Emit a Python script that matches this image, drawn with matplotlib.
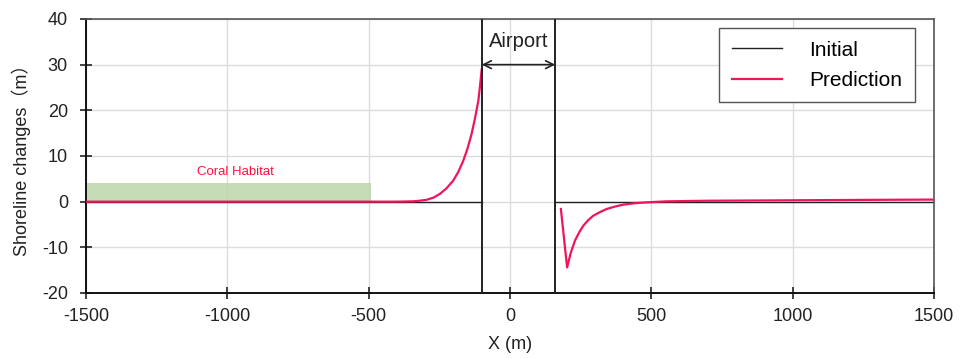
import numpy as np
import matplotlib
import matplotlib.pyplot as plt
matplotlib.use('agg')

plt.rcParams['font.family'] = ['Liberation Sans', 'Noto Sans CJK SC', 'DejaVu Sans']
plt.rcParams['axes.unicode_minus'] = False

# initial shoreline (gap over the airport)
initial_x = [-1500, -100, np.nan, 160, 1500]
initial_y = [0, 0, np.nan, 0, 0]

# predicted shoreline, updrift side
pred_left_x = [-1500, -400, -343, -320, -295, -270, -248, -225, -201, -183, -165,
               -150, -136, -124, -112, -106, -100]
pred_left_y = [0, 0, 0.07, 0.2, 0.4, 0.9, 1.7, 2.9, 4.6, 6.5, 9.0,
               11.7, 14.8, 18.2, 22.1, 25.4, 29.0]

# predicted shoreline, downdrift side
pred_right_x = [180, 202, 215, 230, 245, 259, 276, 294, 318, 342, 370, 400, 440,
                483, 554, 700, 1000, 1300, 1500]
pred_right_y = [-1.6, -14.4, -11.2, -8.5, -6.7, -5.3, -4.1, -3.1, -2.3, -1.6, -1.1,
                -0.66, -0.35, -0.15, 0.07, 0.2, 0.3, 0.4, 0.45]

airport_edges = [-100, 160]
coral_x = [-1500, -490]
coral_top = 4

fig = plt.figure(figsize=(9.63, 3.58), dpi=100)
ax = fig.add_axes([0.0893, 0.1816, 0.8806, 0.7654])

ax.fill_between(coral_x, 0, coral_top, color='#bcd6ab', alpha=0.85, lw=0, zorder=1)
ax.text(-970, 6.4, 'Coral Habitat', color='#ff1040', fontsize=9.5,
        ha='center', va='center')

ax.plot(initial_x, initial_y, color='#222222', lw=1.0, label='Initial', zorder=2)
ax.plot(pred_left_x, pred_left_y, color='#f0145a', lw=1.6, label='Prediction', zorder=3)
ax.plot(pred_right_x, pred_right_y, color='#f0145a', lw=1.6, zorder=3)

for xe in airport_edges:
    ax.axvline(xe, color='#222222', lw=1.4, zorder=4)

ax.annotate('', xy=(airport_edges[0], 30), xytext=(airport_edges[1], 30),
            arrowprops=dict(arrowstyle='<->', lw=1.2, color='#222222',
                            shrinkA=0, shrinkB=0, mutation_scale=14))
ax.text(sum(airport_edges) / 2, 35, 'Airport', fontsize=14.5,
        ha='center', va='center', color='#222222')

ax.set_xlim(-1500, 1500)
ax.set_ylim(-20, 40)
ax.set_xticks(range(-1500, 1501, 500))
ax.set_yticks(range(-20, 41, 10))
ax.grid(True, color='#dcdcdc', lw=1.0)
ax.set_axisbelow(True)

ax.tick_params(direction='inout', length=8, width=1.2, labelsize=13,
               colors='#222222')
ax.tick_params(axis='x', pad=7)
ax.tick_params(axis='y', pad=9)
for side in ['left', 'bottom']:
    ax.spines[side].set_linewidth(1.4)
    ax.spines[side].set_color('#111111')
for side in ['top', 'right']:
    ax.spines[side].set_linewidth(1.2)
    ax.spines[side].set_color('#555555')

ax.set_xlabel('X (m)', fontsize=13, color='#222222', labelpad=8)
ax.set_ylabel('Shoreline changes（m）', fontsize=13, color='#222222', labelpad=8)

leg = ax.legend(loc='upper right', bbox_to_anchor=(0.977, 0.967), fontsize=15,
                fancybox=False, edgecolor='#555555', framealpha=1,
                handlelength=2.4, handletextpad=1.3, borderpad=0.6,
                labelspacing=0.55, borderaxespad=0)
leg.get_frame().set_linewidth(1.0)

fig.savefig('out.png', dpi=100)
